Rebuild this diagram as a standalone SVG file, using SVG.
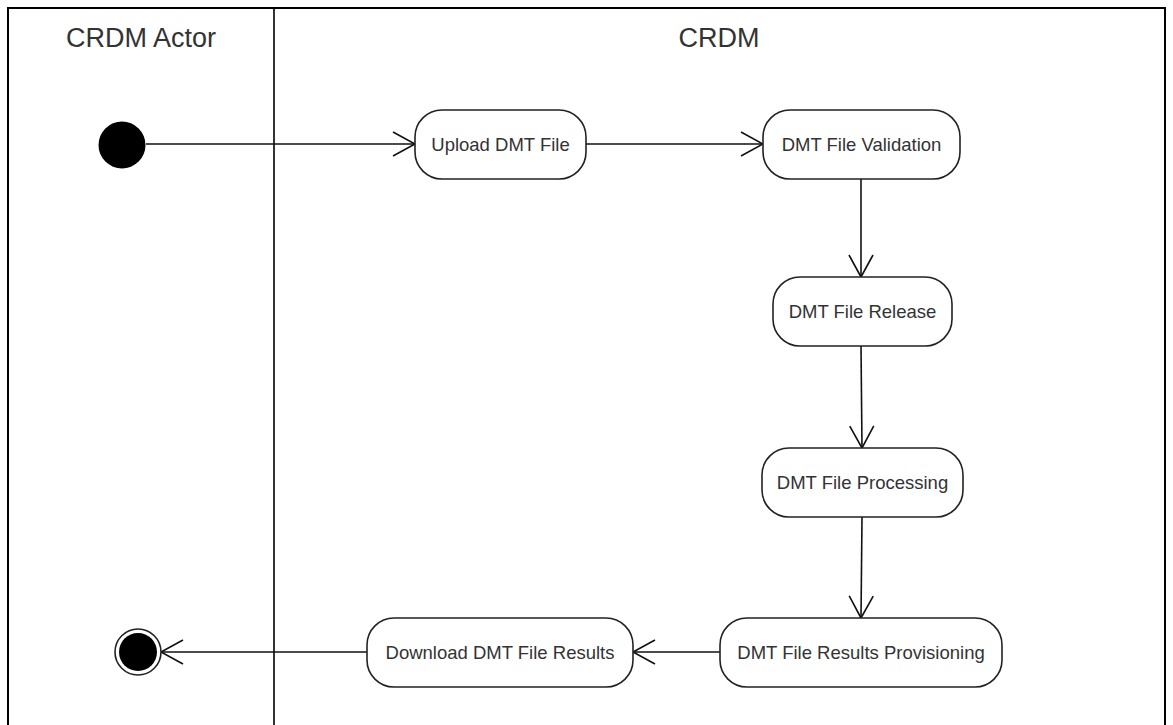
<svg xmlns="http://www.w3.org/2000/svg" width="1173" height="725" viewBox="0 0 1173 725">
  <style>
    .frame { fill: none; stroke: #000; stroke-width: 2; }
    .lane { stroke: #000; stroke-width: 1.6; }
    .hdr { font-family: "Liberation Sans", Arial, sans-serif; font-size: 27px; fill: #333; text-anchor: middle; }
    .act rect { fill: #fff; stroke: #222; stroke-width: 1.6; }
    .act text { font-family: "Liberation Sans", Arial, sans-serif; font-size: 18.5px; fill: #333; text-anchor: middle; }
    .conn path { fill: none; stroke: #111; stroke-width: 1.6; marker-end: url(#arr); }
  </style>
  <defs>
    <marker id="arr" markerUnits="userSpaceOnUse" viewBox="-26 -15 30 30" refX="0" refY="0" markerWidth="30" markerHeight="30" orient="auto">
      <path d="M-22,-12 L0,0 L-22,12" fill="none" stroke="#111" stroke-width="1.6"/>
    </marker>
  </defs>
  <rect width="1173" height="725" fill="#fff"/>
  <g id="swimlanes">
    <rect class="frame" x="8" y="8" width="1157" height="740"/>
    <line class="lane" x1="274" y1="8" x2="274" y2="725"/>
    <text class="hdr" x="141" y="47">CRDM Actor</text>
    <text class="hdr" x="719" y="47">CRDM</text>
  </g>
  <g id="connectors" class="conn">
    <path d="M146,144 L415,144"/>
    <path d="M586,144 L763,144"/>
    <path d="M861,179 L861,277"/>
    <path d="M861,346 L862,448"/>
    <path d="M862,517 L861,618"/>
    <path d="M720,652 L633,652"/>
    <path d="M367,652 L161,652"/>
  </g>
  <g id="start">
    <circle cx="122" cy="145" r="23.5" fill="#000"/>
  </g>
  <g id="upload" class="act">
    <rect x="415" y="110" width="171" height="69" rx="27" ry="27"/>
    <text x="500.5" y="151">Upload DMT File</text>
  </g>
  <g id="validation" class="act">
    <rect x="763" y="110" width="197" height="69" rx="27" ry="27"/>
    <text x="861.5" y="151">DMT File Validation</text>
  </g>
  <g id="release" class="act">
    <rect x="773" y="277" width="179" height="69" rx="27" ry="27"/>
    <text x="862.5" y="318">DMT File Release</text>
  </g>
  <g id="processing" class="act">
    <rect x="762" y="448" width="201" height="69" rx="27" ry="27"/>
    <text x="862.5" y="489">DMT File Processing</text>
  </g>
  <g id="provisioning" class="act">
    <rect x="720" y="618" width="282" height="69" rx="27" ry="27"/>
    <text x="861" y="659">DMT File Results Provisioning</text>
  </g>
  <g id="download" class="act">
    <rect x="367" y="618" width="266" height="69" rx="27" ry="27"/>
    <text x="500" y="659">Download DMT File Results</text>
  </g>
  <g id="end">
    <circle cx="138" cy="652" r="23" fill="#fff" stroke="#222" stroke-width="1.6"/>
    <circle cx="138" cy="652" r="19" fill="#000"/>
  </g>
</svg>
